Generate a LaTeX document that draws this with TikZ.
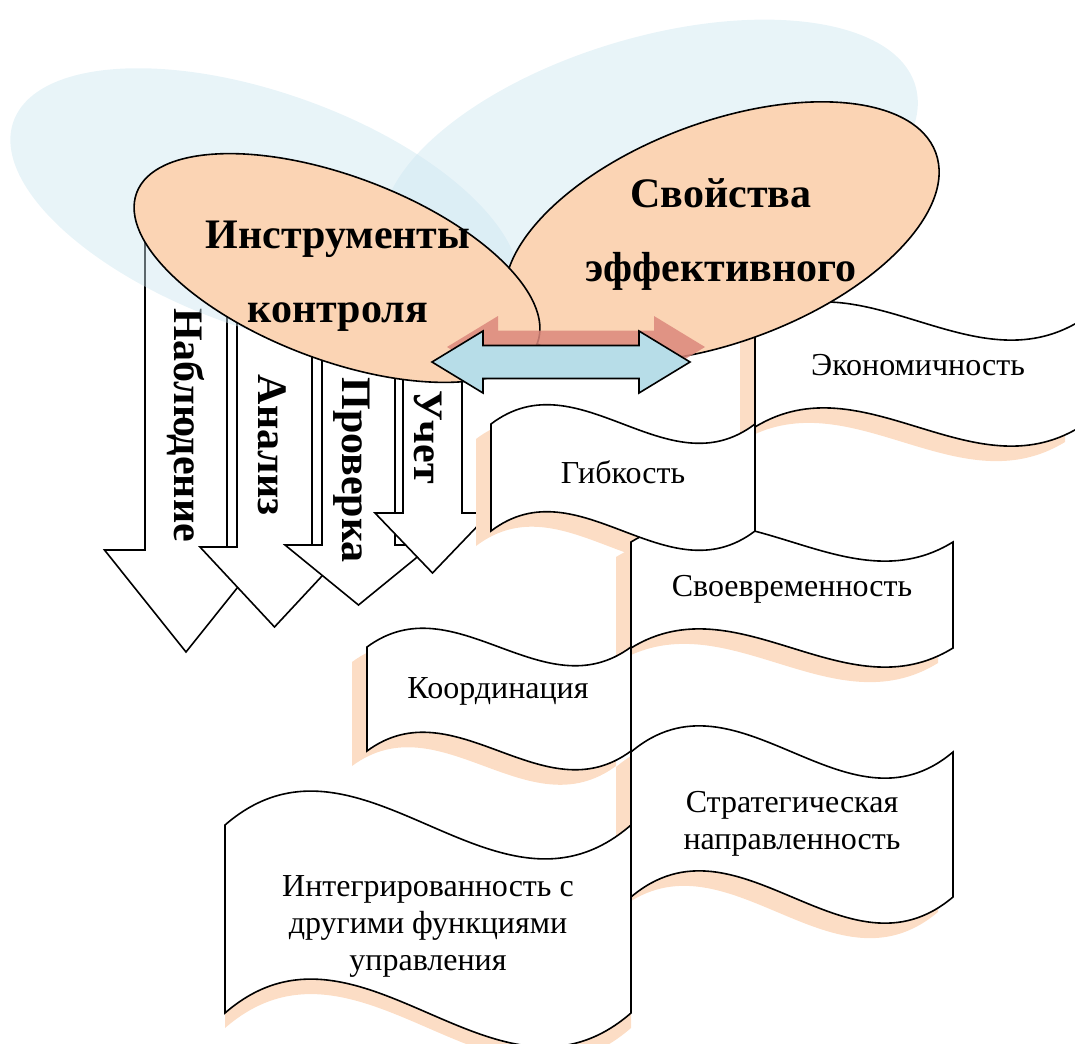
\documentclass[tikz,border=0pt]{standalone}
\usepackage{fontspec}
\setmainfont{Liberation Serif}
\definecolor{peach}{RGB}{251,212,180}
\definecolor{haze}{RGB}{205,230,240}
\definecolor{aqua}{RGB}{183,221,232}
\definecolor{salmon}{RGB}{220,136,124}
\definecolor{bannershade}{RGB}{252,221,197}
\tikzset{
  outline/.style={draw=black, line width=1.2pt, line join=miter},
  bigtext/.style={font=\fontsize{31.5}{55.5}\selectfont\bfseries, align=center},
  flagtext/.style={font=\fontsize{24}{27.75}\selectfont, align=center},
  downtext/.style={font=\fontsize{31.5}{38}\selectfont\bfseries, rotate=-90, anchor=base},
  twoway/.pic={
    \path[pic actions] (-129,0) -- (-78,-31) -- (-78,-16.5) -- (78,-16.5) -- (78,-31) -- (129,0)
      -- (78,31) -- (78,16.5) -- (-78,16.5) -- (-78,31) -- cycle;
  }
}
% wave banner: left, top, right, bottom, options
\newcommand{\wavebanner}[5]{%
  \pgfmathsetmacro\wavexa{#1+(#3-#1)/3}%
  \pgfmathsetmacro\wavexb{#1+2*(#3-#1)/3}%
  \pgfmathsetmacro\wavedy{0.625*(#4-#2)}%
  \path[#5] (#1,#2) .. controls (\wavexa,#2-\wavedy) and (\wavexb,#2+\wavedy) .. (#3,#2)
    -- (#3,#4) .. controls (\wavexb,#4+\wavedy) and (\wavexa,#4-\wavedy) .. (#1,#4) -- cycle;}
\begin{document}
\begin{tikzpicture}[x=0.75pt, y=-0.75pt]
  \useasboundingbox (0,0) rectangle (1075,1043);

  % instruments of control
  \foreach \cx/\sw/\hw/\wy/\ty/\bx/\my/\word [count=\i] in {
      186/41/81.5/550/652/174/425/Наблюдение,
      274.5/37.5/74.5/547/627/258/445/Анализ,
      358.5/36.5/73.5/545/605/342/470/Проверка,
      432.5/29.5/57.5/513/573/414/437/Учет} {
    \draw[outline, fill=white] ({\cx-\sw},240) -- ({\cx-\sw},\wy) -- ({\cx-\hw},\wy) -- (\cx,\ty)
      -- ({\cx+\hw},\wy) -- ({\cx+\sw},\wy) -- ({\cx+\sw},240) -- cycle;
    \node[downtext] (tool\i) at (\bx,\my) {\word};
  }

  % economy banner lies behind the ovals
  \wavebanner{755}{321}{1080}{427}{fill=bannershade, shift={(-15,15)}}
  \wavebanner{755}{321}{1080}{427}{outline, fill=white}
  \node[flagtext] (economy) at (918,365) {Экономичность};

  % pale glow behind the ovals
  \fill[haze, opacity=.45, rotate around={-19.6:(265,211)}] (265,211) ellipse [x radius=267, y radius=118];
  \fill[haze, opacity=.45, rotate around={16.7:(650,165)}] (650,165) ellipse [x radius=277, y radius=127];

  % ovals
  \draw[outline, fill=peach, rotate around={20.4:(722,232)}] (722,232) ellipse [x radius=228, y radius=110];
  \draw[outline, fill=peach, rotate around={-20.6:(337,268)}] (337,268) ellipse [x radius=214, y radius=92];
  \node[bigtext] (tools) at (338,276) {Инструменты\\контроля};
  \node[bigtext] (props) at (721,235) {Свойства\\эффективного};

  % link between the ovals
  \pic[fill=salmon, opacity=.85] at (576,347) {twoway};
  \pic[outline, fill=aqua] at (561,362) {twoway};

  % properties
  \foreach \L/\T/\R/\B/\sx in {367/647/631/751/-15, 631/542/953/648/-15, 491/424/755/531/-15,
      631/752/953/897/-15, 225/825/631/1013/0}
    \wavebanner{\L}{\T}{\R}{\B}{fill=bannershade, shift={(\sx,15)}};
  \foreach \L/\T/\R/\B in {367/647/631/751, 631/542/953/648, 491/424/755/531,
      631/752/953/897, 225/825/631/1013}
    \wavebanner{\L}{\T}{\R}{\B}{outline, fill=white};

  \node[flagtext] (flexibility) at (623,472) {Гибкость};
  \node[flagtext] (timeliness) at (792,589) {Своевременность};
  \node[flagtext] (coordination) at (498,691) {Координация};
  \node[flagtext] (strategy) at (792,824) {Стратегическая\\направленность};
  \node[flagtext] (integration) at (428,926) {Интегрированность с\\другими функциями\\управления};
\end{tikzpicture}
\end{document}
